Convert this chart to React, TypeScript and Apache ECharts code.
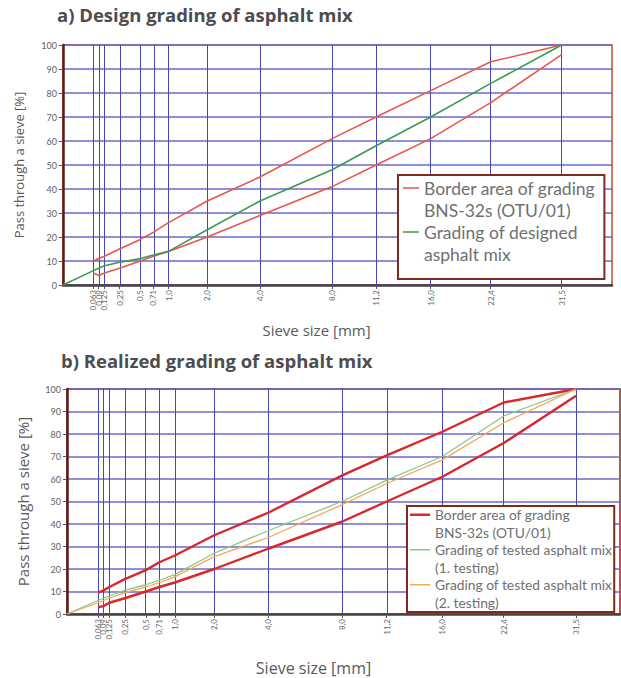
import { useEffect, useRef } from 'react';
import * as echarts from 'echarts';

// Sieve sizes (mm) and their tick labels
const SIEVES = [0.063, 0.09, 0.125, 0.25, 0.5, 0.71, 1.0, 2.0, 4.0, 8.0, 11.2, 16.0, 22.4, 31.5];
const SIEVE_LABELS = ['0,063', '0,09', '0,125', '0,25', '0,5', '0,71', '1,0', '2,0', '4,0', '8,0', '11,2', '16,0', '22,4', '31,5'];
// Mix curves start at the origin (0 mm, 0 %)
const ORIGIN = [0, 0];

// a) Design grading
const A_UPPER = [10, 11, 12, 15, 19, 22, 26, 35, 45, 61, 70, 81, 93, 100];
const A_LOWER = [5, 4, 5, 7, 10, 12, 14, 20, 29, 41, 50, 61, 76, 96];
const A_DESIGN = [6, 7, 8, 9.5, 11, 12.5, 14, 23, 35, 48, 58, 70, 84, 100];

// b) Realized grading
const B_UPPER = [9.5, 10.5, 12, 15.5, 19.5, 23, 26, 35, 45, 61.5, 70.5, 81, 94, 100];
const B_LOWER = [3, 3.5, 5, 7, 10, 12, 14, 20, 29, 41, 50, 61, 76, 97];
const B_TEST1 = [6, 7, 8, 10.5, 13, 15, 17.5, 27, 37, 50, 59.5, 70, 88, 100];
const B_TEST2 = [5, 6, 7, 9.5, 12, 14, 16.5, 25.5, 34, 48.5, 58, 68.5, 85, 100];

const BORDER_NAME = 'Border area of grading\nBNS-32s (OTU/01)';
const DESIGN_NAME = 'Grading of designed\nasphalt mix';
const TEST1_NAME = 'Grading of tested asphalt mix\n(1. testing)';
const TEST2_NAME = 'Grading of tested asphalt mix\n(2. testing)';

const FONT = 'Lato';
const TITLE_FONT = 'Open Sans';
const POWER = 0.45; // grading-chart power scale
const tx = (d: number) => Math.pow(d, POWER);

const toPts = (vals: number[]) => SIEVES.map((d, i) => [tx(d), vals[i]]);
const withOrigin = (vals: number[]) => [[tx(ORIGIN[0]), ORIGIN[1]], ...toPts(vals)];

const labelFor = (v: number) => {
  const i = SIEVES.findIndex((d) => Math.abs(tx(d) - v) < 1e-6);
  return i >= 0 ? SIEVE_LABELS[i] : '';
};

const GRID_V = '#4646b4';
const GRID_H = '#6a6ad0';

function xAxisCfg(gridIndex: number, max: number, nameGap: number, namePad: number, nameSize: number) {
  return {
    type: 'value',
    gridIndex,
    min: 0,
    max,
    name: 'Sieve size [mm]',
    nameLocation: 'middle',
    nameGap,
    nameTextStyle: { fontFamily: TITLE_FONT, fontSize: nameSize, color: '#5a5a5a', padding: [0, namePad, 0, 0] },
    axisLine: { show: true, onZero: false, lineStyle: { color: '#4a4040', width: 2.5 } },
    axisTick: { show: true, customValues: SIEVES.map(tx), length: 4, lineStyle: { color: '#555' } },
    axisLabel: {
      // an empty label at the origin keeps the min-label overlap rule away from the sieve labels
      customValues: [0, ...SIEVES.map(tx)],
      formatter: labelFor,
      rotate: 90,
      hideOverlap: false,
      fontFamily: FONT,
      fontSize: 8,
      color: '#6a6a6a',
      margin: 5,
    },
    splitLine: { show: false },
  };
}

function yAxisCfg(gridIndex: number, nameGap: number, nameSize: number) {
  return {
    type: 'value',
    gridIndex,
    min: 0,
    max: 100,
    interval: 10,
    name: 'Pass through a sieve [%]',
    nameLocation: 'middle',
    nameGap,
    nameTextStyle: { fontFamily: TITLE_FONT, fontSize: nameSize, color: '#5a5a5a' },
    axisLine: { show: true, lineStyle: { color: '#5a1e14', width: 2.5 } },
    axisTick: { show: true, length: 4, lineStyle: { color: '#555' } },
    axisLabel: { fontFamily: FONT, fontSize: 9, color: '#606060', margin: 6 },
    splitLine: { show: true, lineStyle: { color: GRID_H, width: 1.5 } },
  };
}

const vGridMark = {
  silent: true,
  z: 1,
  symbol: ['none', 'none'],
  label: { show: false },
  emphasis: { disabled: true },
  lineStyle: { color: GRID_V, width: 1, type: 'solid' },
  data: SIEVES.map((d) => ({ xAxis: tx(d) })),
};

const TOP_ICON = 'path://M0,10.2h16v1.6h-16zM0,0h0.01v0.01h-0.01zM0,44h0.01v0.01h-0.01z';
const BOT_ICON_THICK = 'path://M0,7.5h20v2.5h-20zM0,0h0.01v0.01h-0.01zM0,35h0.01v0.01h-0.01z';
const BOT_ICON = 'path://M0,7.9h20v1.7h-20zM0,0h0.01v0.01h-0.01zM0,35h0.01v0.01h-0.01z';

export default function App() {
  const ref = useRef<HTMLDivElement>(null);

  useEffect(() => {
    if (!ref.current) return;
    const chart = echarts.init(ref.current, null, { renderer: 'svg' });

    const lineBase = { type: 'line', showSymbol: false, symbol: 'none', silent: true, z: 3 };
    const topRed = '#e5584a';
    const topGreen = '#3c9a52';
    const botRed = '#d8282c';
    const botGreen = '#8cc68c';
    const botOrange = '#f4a858';

    chart.setOption({
      animation: false,
      backgroundColor: '#ffffff',
      title: [
        {
          text: 'a) Design grading of asphalt mix',
          left: 57,
          top: 5,
          padding: 0,
          textStyle: { fontFamily: TITLE_FONT, fontSize: 18.5, fontWeight: 'bold', color: '#4d4d4f' },
        },
        {
          text: 'b) Realized grading of asphalt mix',
          left: 61,
          top: 351,
          padding: 0,
          textStyle: { fontFamily: TITLE_FONT, fontSize: 18.5, fontWeight: 'bold', color: '#4d4d4f' },
        },
      ],
      grid: [
        { left: 63, top: 45, right: 9, bottom: 393, show: true, borderColor: '#c24a36', borderWidth: 1.5 },
        { left: 67, top: 389, right: 1, bottom: 64, show: true, borderColor: '#8a2a1c', borderWidth: 1.5 },
      ],
      xAxis: [xAxisCfg(0, 5.2, 37, 42, 15), xAxisCfg(1, 5.13, 46, 60, 16)],
      yAxis: [yAxisCfg(0, 38, 13), yAxisCfg(1, 37, 15)],
      legend: [
        {
          orient: 'vertical',
          left: 398,
          top: 175,
          padding: [2, 9, 14, 5],
          itemGap: 0,
          itemWidth: 16,
          itemHeight: 44,
          symbolKeepAspect: false,
          selectedMode: false,
          backgroundColor: '#ffffff',
          borderColor: '#7e2a1c',
          borderWidth: 2,
          itemStyle: { borderWidth: 0 },
          textStyle: { fontFamily: FONT, fontSize: 17.5, lineHeight: 22, color: '#707070' },
          data: [
            { name: BORDER_NAME, icon: TOP_ICON, itemStyle: { color: topRed } },
            { name: DESIGN_NAME, icon: TOP_ICON, itemStyle: { color: topGreen } },
          ],
        },
        {
          orient: 'vertical',
          left: 407,
          top: 506,
          padding: [0, 2, 1, 3],
          itemGap: 0,
          itemWidth: 20,
          itemHeight: 35,
          symbolKeepAspect: false,
          selectedMode: false,
          backgroundColor: '#ffffff',
          borderColor: '#7e2a1c',
          borderWidth: 2,
          itemStyle: { borderWidth: 0 },
          textStyle: { fontFamily: FONT, fontSize: 13.8, lineHeight: 17.5, color: '#707070' },
          data: [
            { name: BORDER_NAME, icon: BOT_ICON_THICK, itemStyle: { color: botRed } },
            { name: TEST1_NAME, icon: BOT_ICON, itemStyle: { color: botGreen } },
            { name: TEST2_NAME, icon: BOT_ICON, itemStyle: { color: botOrange } },
          ],
        },
      ],
      series: [
        // a)
        { ...lineBase, name: BORDER_NAME, xAxisIndex: 0, yAxisIndex: 0, data: toPts(A_UPPER), lineStyle: { color: topRed, width: 1.6 }, itemStyle: { color: topRed } },
        { ...lineBase, name: BORDER_NAME, xAxisIndex: 0, yAxisIndex: 0, data: toPts(A_LOWER), lineStyle: { color: topRed, width: 1.6 }, itemStyle: { color: topRed } },
        {
          ...lineBase,
          name: DESIGN_NAME,
          xAxisIndex: 0,
          yAxisIndex: 0,
          data: withOrigin(A_DESIGN),
          lineStyle: { color: topGreen, width: 1.6 },
          itemStyle: { color: topGreen },
          markLine: vGridMark,
        },
        // b)
        { ...lineBase, name: BORDER_NAME, xAxisIndex: 1, yAxisIndex: 1, data: toPts(B_UPPER), lineStyle: { color: botRed, width: 2.4 }, itemStyle: { color: botRed } },
        { ...lineBase, name: BORDER_NAME, xAxisIndex: 1, yAxisIndex: 1, data: toPts(B_LOWER), lineStyle: { color: botRed, width: 2.4 }, itemStyle: { color: botRed } },
        {
          ...lineBase,
          name: TEST1_NAME,
          xAxisIndex: 1,
          yAxisIndex: 1,
          data: withOrigin(B_TEST1),
          lineStyle: { color: botGreen, width: 1.3 },
          itemStyle: { color: botGreen },
          markLine: vGridMark,
        },
        {
          ...lineBase,
          name: TEST2_NAME,
          xAxisIndex: 1,
          yAxisIndex: 1,
          data: withOrigin(B_TEST2),
          lineStyle: { color: botOrange, width: 1.3 },
          itemStyle: { color: botOrange },
        },
      ],
    });

    return () => chart.dispose();
  }, []);

  return <div ref={ref} style={{ position: 'absolute', left: 0, top: 0, width: 621, height: 678 }} />;
}
